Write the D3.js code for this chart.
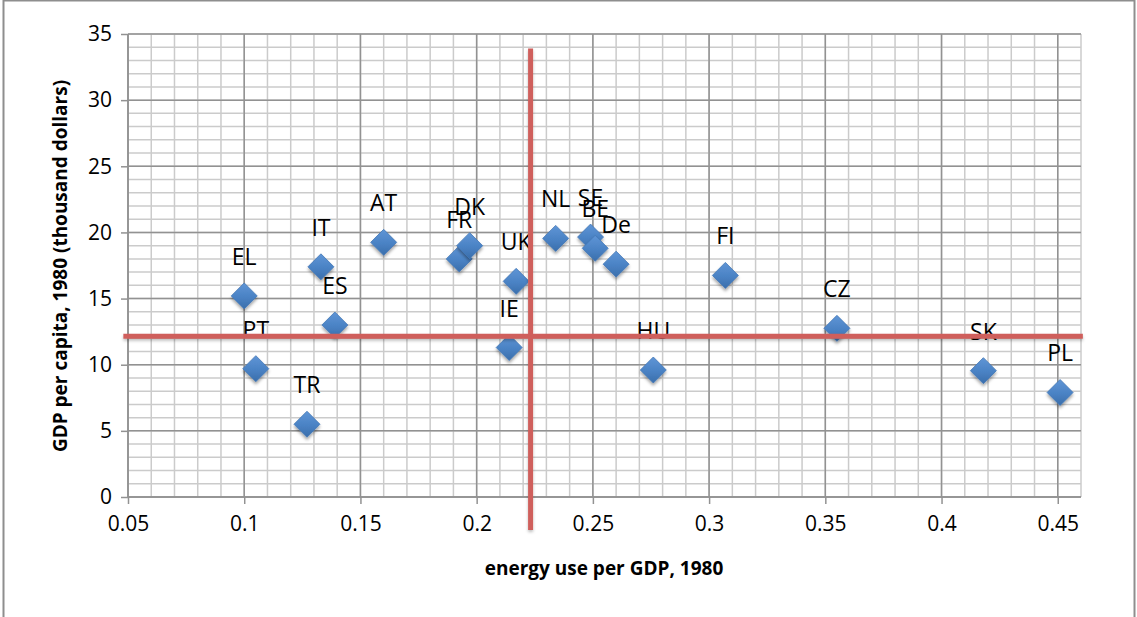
<!DOCTYPE html>
<html>
<head>
<meta charset="utf-8">
<script src="https://d3js.org/d3.v7.min.js"></script>
<style>
  html, body { margin: 0; padding: 0; background: #fff; }
  svg { display: block; }
  text { font-family: "Open Sans", "Liberation Sans", sans-serif; fill: #000; }
</style>
</head>
<body>
<svg id="chart" width="1137" height="617"></svg>
<script>
// Country codes, energy intensity and GDP per capita, 1980
const countries = ["EL", "PT", "IT", "ES", "TR", "AT", "FR", "DK", "UK", "IE",
                   "NL", "SE", "BE", "De", "HU", "FI", "CZ", "SK", "PL"];
const energyPerGdp = [0.100, 0.105, 0.133, 0.139, 0.127, 0.160, 0.1925, 0.197, 0.217, 0.214,
                      0.234, 0.249, 0.251, 0.260, 0.276, 0.307, 0.355, 0.418, 0.451];
const gdpPerCapita = [15.2, 9.7, 17.4, 13.0, 5.5, 19.25, 18.0, 19.0, 16.3, 11.3,
                      19.55, 19.65, 18.8, 17.6, 9.6, 16.75, 12.75, 9.55, 7.9];

// Axis ticks
const xTicks = [0.05, 0.1, 0.15, 0.2, 0.25, 0.3, 0.35, 0.4, 0.45];
const xTickLabels = ["0.05", "0.1", "0.15", "0.2", "0.25", "0.3", "0.35", "0.4", "0.45"];
const yTicks = [0, 5, 10, 15, 20, 25, 30, 35];
const xMinor = d3.range(5, 47).map(d => d / 100);
const yMinor = d3.range(0, 36);

// Quadrant reference lines: position and extent
const refX = 0.2232, refXSpan = [-2.5, 33.9];
const refY = 12.15, refYSpan = [0.048, 0.4608];

const svg = d3.select("#chart");
const x = d3.scaleLinear().domain([0.05, 0.46]).range([128, 1081]);
const y = d3.scaleLinear().domain([0, 35]).range([497, 34]);

const defs = svg.append("defs");
const grad = defs.append("linearGradient").attr("id", "diamondFill")
  .attr("x1", 0).attr("y1", 0).attr("x2", 0).attr("y2", 1);
grad.append("stop").attr("offset", "0%").attr("stop-color", "#5f95d6");
grad.append("stop").attr("offset", "55%").attr("stop-color", "#4a82c4");
grad.append("stop").attr("offset", "100%").attr("stop-color", "#3a6eab");
const shadow = defs.append("filter").attr("id", "markShadow")
  .attr("x", "-50%").attr("y", "-50%").attr("width", "200%").attr("height", "200%");
shadow.append("feDropShadow").attr("dx", 0).attr("dy", 2.5).attr("stdDeviation", 1.6)
  .attr("flood-color", "#000").attr("flood-opacity", 0.35);
const lineShadow = defs.append("filter").attr("id", "lineShadow")
  .attr("x", "-10%").attr("y", "-50%").attr("width", "120%").attr("height", "200%");
lineShadow.append("feDropShadow").attr("dx", 0).attr("dy", 2).attr("stdDeviation", 1.5)
  .attr("flood-color", "#000").attr("flood-opacity", 0.25);

// Outer chart frame
svg.append("rect").attr("x", 3.5).attr("y", 0.5).attr("width", 1131).attr("height", 630)
  .attr("fill", "#fff").attr("stroke", "#8e8e8e").attr("stroke-width", 2);

// Minor gridlines
const grid = svg.append("g");
grid.selectAll("line.vminor").data(xMinor).join("line")
  .attr("x1", d => x(d)).attr("x2", d => x(d)).attr("y1", y(0)).attr("y2", y(35))
  .attr("stroke", "#cbcbcb").attr("stroke-width", 1.5);
grid.selectAll("line.hminor").data(yMinor).join("line")
  .attr("y1", d => y(d)).attr("y2", d => y(d)).attr("x1", x(0.05)).attr("x2", x(0.46))
  .attr("stroke", "#cbcbcb").attr("stroke-width", 1.5);
// Major gridlines
grid.selectAll("line.vmajor").data(xTicks).join("line")
  .attr("x1", d => x(d)).attr("x2", d => x(d)).attr("y1", y(0)).attr("y2", y(35))
  .attr("stroke", "#929292").attr("stroke-width", 1.5);
grid.selectAll("line.hmajor").data(yTicks).join("line")
  .attr("y1", d => y(d)).attr("y2", d => y(d)).attr("x1", x(0.05)).attr("x2", x(0.46))
  .attr("stroke", "#929292").attr("stroke-width", 1.5);

// Axes
const xAxis = d3.axisBottom(x).tickValues(xTicks).tickSize(7).tickPadding(12)
  .tickFormat((d, i) => xTickLabels[i]);
const yAxis = d3.axisLeft(y).tickValues(yTicks).tickSize(7).tickPadding(9);
const gx = svg.append("g").attr("transform", `translate(0,${y(0)})`).call(xAxis);
const gy = svg.append("g").attr("transform", `translate(${x(0.05)},0)`).call(yAxis);
[gx, gy].forEach(g => {
  g.select(".domain").remove();
  g.selectAll(".tick line").attr("stroke", "#929292").attr("stroke-width", 1.5);
  g.selectAll(".tick text").style("font-size", "21px").attr("fill", "#000");
});
gx.append("line").attr("x1", x(0.05)).attr("x2", x(0.46)).attr("stroke", "#929292").attr("stroke-width", 1.5);
gy.append("line").attr("y1", y(0)).attr("y2", y(35)).attr("stroke", "#929292").attr("stroke-width", 1.5);

// Axis titles
svg.append("text").attr("x", 604).attr("y", 575).attr("text-anchor", "middle")
  .style("font-size", "19px").style("font-weight", "bold")
  .text("energy use per GDP, 1980");
svg.append("text").attr("transform", "translate(67,266) rotate(-90)").attr("text-anchor", "middle")
  .style("font-size", "19px").style("font-weight", "bold")
  .text("GDP per capita, 1980 (thousand dollars)");

// Data points
const pts = countries.map((c, i) => ({ c, ex: energyPerGdp[i], gdp: gdpPerCapita[i] }));
const r = 13;
svg.append("g").selectAll("path").data(pts).join("path")
  .attr("transform", d => `translate(${x(d.ex)},${y(d.gdp)})`)
  .attr("d", `M0,${-r}L${r},0L0,${r}L${-r},0Z`)
  .attr("fill", "url(#diamondFill)")
  .attr("stroke", "#4277b6").attr("stroke-width", 0.8)
  .attr("filter", "url(#markShadow)");

// Data labels
svg.append("g").selectAll("text").data(pts).join("text")
  .attr("x", d => x(d.ex)).attr("y", d => y(d.gdp) - 31)
  .attr("text-anchor", "middle").style("font-size", "23px")
  .text(d => d.c);

// Quadrant reference lines
const ref = svg.append("g").attr("filter", "url(#lineShadow)");
ref.append("line")
  .attr("x1", x(refX)).attr("x2", x(refX)).attr("y1", y(refXSpan[1])).attr("y2", y(refXSpan[0]))
  .attr("stroke", "#cf5f5c").attr("stroke-width", 5);
ref.append("line")
  .attr("x1", x(refYSpan[0])).attr("x2", x(refYSpan[1])).attr("y1", y(refY)).attr("y2", y(refY))
  .attr("stroke", "#cf5f5c").attr("stroke-width", 5);
</script>
</body>
</html>
